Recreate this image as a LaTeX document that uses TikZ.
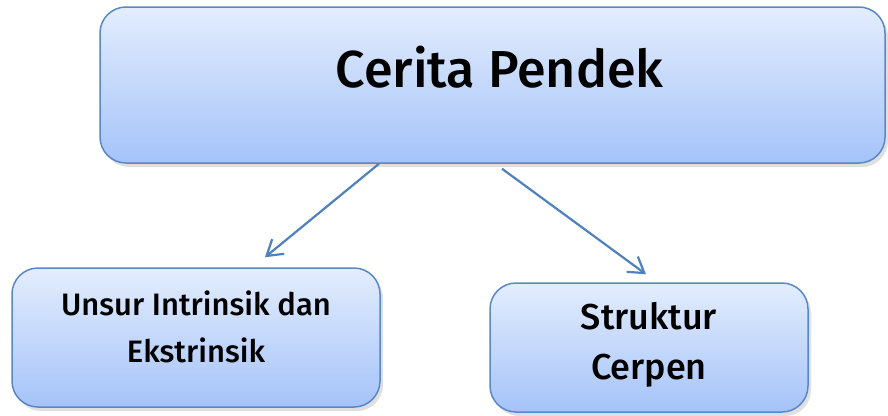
\documentclass[tikz,border=0pt]{standalone}
\usepackage{fontspec}
\setmainfont{Fira Sans}[UprightFont=* Medium]
\usetikzlibrary{arrows.meta,shadows}
\definecolor{boxedge}{HTML}{5A87C5}
\definecolor{boxtop}{HTML}{E3EDFD}
\definecolor{boxbot}{HTML}{A5C3F9}
\definecolor{arrowblue}{HTML}{4F81BD}

\begin{document}
\begin{tikzpicture}[x=1pt,y=-1pt,
    topicbox/.style={draw=boxedge, line width=1.5pt, rounded corners=26pt,
      top color=boxtop, bottom color=boxbot, inner sep=0pt,
      drop shadow={shadow xshift=3pt, shadow yshift=-4pt, opacity=0.25}},
    branch/.style={draw=arrowblue, line width=2.2pt,
      -{Straight Barb[length=15pt,width=19pt]}}]
    \useasboundingbox (0,0) rectangle (888,415);

    \node[topicbox, minimum width=785pt, minimum height=156pt] (cerpen) at (492.5,85) {};
    \node[topicbox, minimum width=368pt, minimum height=139pt] (unsur) at (196,337.5) {};
    \node[topicbox, minimum width=318pt, minimum height=129pt] (struktur) at (649,347.5) {};

    \node[anchor=base, font=\fontsize{52}{60}\selectfont] (cerpentext) at ([xshift=7pt,yshift=-2pt]cerpen.center) {Cerita Pendek};
    \node[align=center, font=\fontsize{31}{47}\selectfont] (unsurtext) at ([yshift=10.8pt]unsur.center) {Unsur Intrinsik dan\\Ekstrinsik};
    \node[align=center, font=\fontsize{36}{50}\selectfont] (strukturtext) at ([yshift=3pt]struktur.center) {Struktur\\Cerpen};

    \draw[branch] ([xshift=-113.5pt]cerpen.south) -- ([xshift=69pt,yshift=10pt]unsur.north);
    \draw[branch] ([xshift=9.5pt,yshift=-5pt]cerpen.south) -- ([xshift=-3pt,yshift=8pt]struktur.north);

\end{tikzpicture}
\end{document}
